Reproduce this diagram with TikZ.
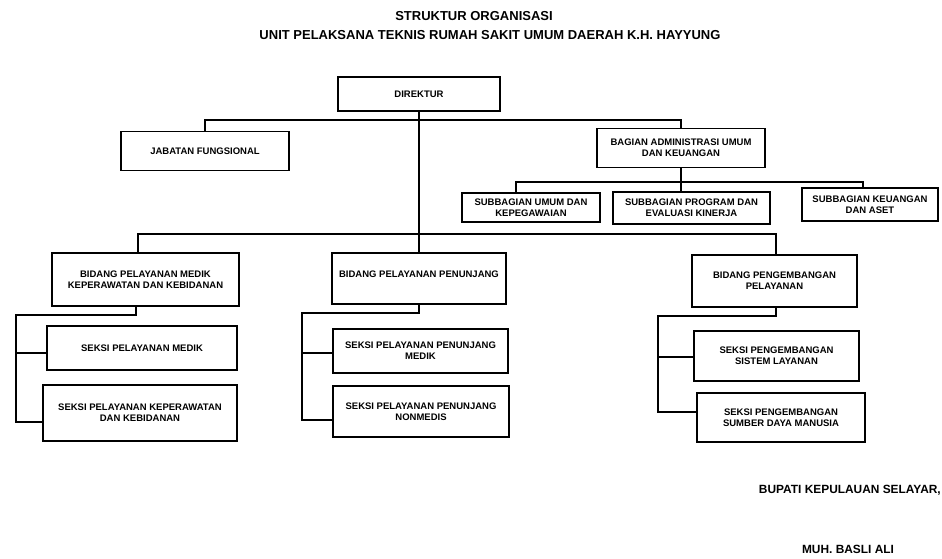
\documentclass[tikz,border=0pt]{standalone}
\usepackage{fontspec}
\setmainfont{Liberation Sans}
\usetikzlibrary{calc}
\begin{document}
\begin{tikzpicture}[x=1pt,y=-1pt,
  orgbox/.style={draw,line width=1.2pt,align=center,inner sep=1pt,
    font=\bfseries\fontsize{9.5}{11}\selectfont},
  link/.style={line width=1.2pt},
  ttl/.style={font=\bfseries\fontsize{13}{15}\selectfont,inner sep=0pt},
  sig/.style={font=\bfseries\fontsize{11.9}{14}\selectfont,inner sep=0pt}]
\useasboundingbox (0,0) rectangle (942,559);
\node[ttl] (t1) at (474,16) {STRUKTUR ORGANISASI};
\node[ttl] (t2) at (490,35) {UNIT PELAKSANA TEKNIS RUMAH SAKIT UMUM DAERAH K.H. HAYYUNG};

\node[orgbox,minimum width=162,minimum height=34] (dir) at (419,94) {DIREKTUR};
\node[orgbox,minimum width=168,minimum height=39] (jab) at (205,151) {JABATAN FUNGSIONAL};
\node[orgbox,minimum width=168,minimum height=39] (bag) at (681,148) {BAGIAN ADMINISTRASI UMUM\\DAN KEUANGAN};
\node[orgbox,minimum width=138,minimum height=29] (sub1) at (531,207.5) {SUBBAGIAN UMUM DAN\\KEPEGAWAIAN};
\node[orgbox,minimum width=157,minimum height=32] (sub2) at (691.5,208) {SUBBAGIAN PROGRAM DAN\\EVALUASI KINERJA};
\node[orgbox,minimum width=136,minimum height=33] (sub3) at (870,204.5) {SUBBAGIAN KEUANGAN\\DAN ASET};

\node[orgbox,minimum width=187,minimum height=53] (bmed) at (145.5,279.5) {BIDANG PELAYANAN MEDIK\\KEPERAWATAN DAN KEBIDANAN};
\node[orgbox,minimum width=174,minimum height=51,text depth=9pt] (bpen) at (419,278.5) {BIDANG PELAYANAN PENUNJANG};
\node[orgbox,minimum width=165,minimum height=52] (bpg) at (774.5,281) {BIDANG PENGEMBANGAN\\PELAYANAN};

\node[orgbox,minimum width=190,minimum height=44] (smed) at (142,348) {SEKSI PELAYANAN MEDIK};
\node[orgbox,minimum width=194,minimum height=56] (skep) at (140,413) {SEKSI PELAYANAN KEPERAWATAN\\DAN KEBIDANAN};
\node[orgbox,minimum width=175,minimum height=44] (spm) at (420.5,351) {SEKSI PELAYANAN PENUNJANG\\MEDIK};
\node[orgbox,minimum width=176,minimum height=51] (snm) at (421,411.5) {SEKSI PELAYANAN PENUNJANG\\NONMEDIS};
\node[orgbox,minimum width=165,minimum height=50] (ssl) at (776.5,356) {SEKSI PENGEMBANGAN\\SISTEM LAYANAN};
\node[orgbox,minimum width=168,minimum height=49] (ssdm) at (781,417.5) {SEKSI PENGEMBANGAN\\SUMBER DAYA MANUSIA};

\node[sig,anchor=east] (bup) at (941,490) {BUPATI KEPULAUAN SELAYAR,};
\node[sig] (muh) at (848,549) {MUH. BASLI ALI};

% top level
\coordinate (r1) at (419,120);
\draw[link] (dir.south) -- (bpen.north);
\draw[link] (jab.north) |- (r1) -| (bag.north);
% subbagian
\coordinate (r2) at (681,182);
\draw[link] (bag.south) -- (bag.south |- sub2.north);
\draw[link] (sub1.north -| 516,0) |- (r2) -| (sub3.north -| 863,0);
% bidang
\coordinate (r3) at (419,234);
\draw[link] (bmed.north -| 138,0) |- (r3) -| (bpg.north -| 776,0);
% left column
\draw[link] (bmed.south -| 136,0) -- (136,315) -- (16,315) |- ([yshift=-9pt]skep.west);
\draw[link] (16,353) -- (smed.west |- 0,353);
% middle column
\draw[link] (bpen.south) -- (419,313) -- (302,313) |- ([yshift=-8.5pt]snm.west);
\draw[link] (302,353) -- (spm.west |- 0,353);
% right column
\draw[link] (bpg.south -| 776,0) -- (776,316) -- (658,316) |- ([yshift=5.5pt]ssdm.west);
\draw[link] (658,357) -- (ssl.west |- 0,357);
\end{tikzpicture}
\end{document}
